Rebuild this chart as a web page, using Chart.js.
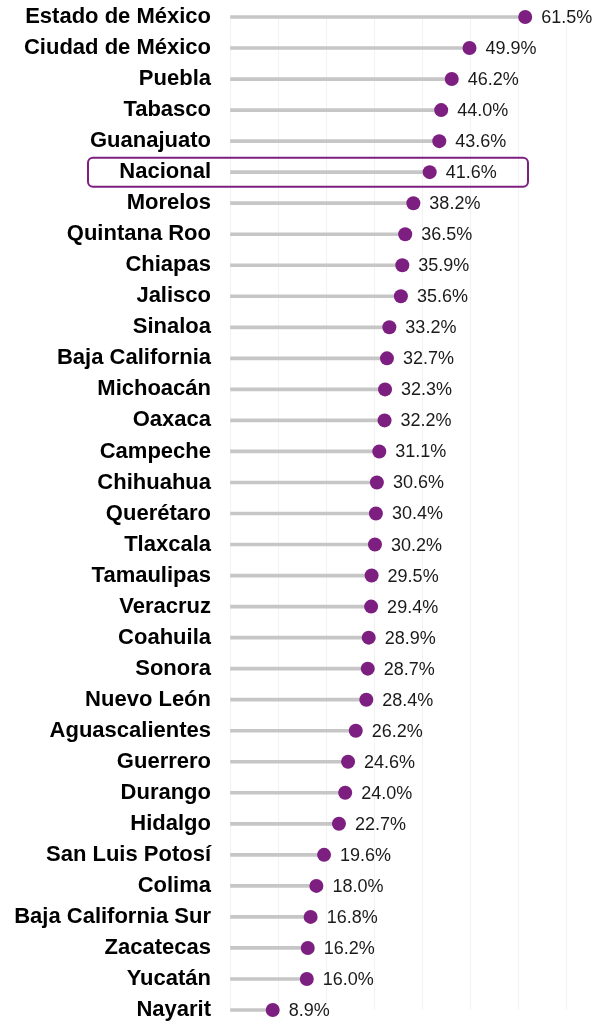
<!DOCTYPE html>
<html>
<head>
<meta charset="utf-8">
<script src="https://cdn.jsdelivr.net/npm/chart.js@4.4.1/dist/chart.umd.min.js"></script>
<style>
  body { margin: 0; background: #fff; }
  canvas { display: block; }
</style>
</head>
<body>
<canvas id="myChart" width="598" height="1021"></canvas>
<script>
// Datos
const estados = ['Estado de México', 'Ciudad de México', 'Puebla', 'Tabasco', 'Guanajuato', 'Nacional',
  'Morelos', 'Quintana Roo', 'Chiapas', 'Jalisco', 'Sinaloa', 'Baja California', 'Michoacán', 'Oaxaca',
  'Campeche', 'Chihuahua', 'Querétaro', 'Tlaxcala', 'Tamaulipas', 'Veracruz', 'Coahuila', 'Sonora',
  'Nuevo León', 'Aguascalientes', 'Guerrero', 'Durango', 'Hidalgo', 'San Luis Potosí', 'Colima',
  'Baja California Sur', 'Zacatecas', 'Yucatán', 'Nayarit'];
const porcentajes = [61.5, 49.9, 46.2, 44.0, 43.6, 41.6, 38.2, 36.5, 35.9, 35.6, 33.2, 32.7, 32.3, 32.2,
  31.1, 30.6, 30.4, 30.2, 29.5, 29.4, 28.9, 28.7, 28.4, 26.2, 24.6, 24.0, 22.7, 19.6, 18.0, 16.8, 16.2, 16.0, 8.9];
const destacado = 'Nacional';

const morado = '#7d1f80';

// etiquetas de valor a la derecha del punto
const etiquetas = {
  id: 'etiquetas',
  afterDatasetsDraw(chart) {
    const c = chart.ctx;
    const meta = chart.getDatasetMeta(1);
    c.save();
    c.font = '18px "Liberation Sans", Arial, sans-serif';
    c.fillStyle = '#1a1a1a';
    c.textBaseline = 'middle';
    meta.data.forEach((p, i) => {
      c.fillText(porcentajes[i].toFixed(1) + '%', p.x + 16, p.y + 1);
    });
    c.restore();
  }
};

// recuadro de Nacional
const recuadro = {
  id: 'recuadro',
  afterDraw(chart) {
    const i = estados.indexOf(destacado);
    const y = chart.scales.y.getPixelForValue(i);
    const c = chart.ctx;
    c.save();
    c.strokeStyle = morado;
    c.lineWidth = 2;
    c.beginPath();
    c.roundRect(88, y - 14.5, 440, 29, 5);
    c.stroke();
    c.restore();
  }
};

const ctx = document.getElementById('myChart');

new Chart(ctx, {
  data: {
    labels: estados,
    datasets: [{
      type: 'bar',
      data: porcentajes,
      backgroundColor: '#c6c6c6',
      barThickness: 3,
      clip: false,
      order: 2
    }, {
      type: 'line',
      data: porcentajes,
      showLine: false,
      pointRadius: 7,
      pointHoverRadius: 7,
      pointBackgroundColor: morado,
      pointBorderWidth: 0,
      clip: false,
      order: 1
    }]
  },
  options: {
    indexAxis: 'y',
    responsive: false,
    animation: false,
    events: [],
    layout: { padding: { top: 17, bottom: 11, left: 0, right: 8 } },
    scales: {
      x: {
        min: 0,
        max: 75,
        ticks: { display: false, stepSize: 10, includeBounds: false },
        grid: { color: '#f2f2f2', drawTicks: false },
        border: { display: false },
        afterFit(s) { s.height = 0; s.paddingLeft = 0; s.paddingRight = 0; }
      },
      y: {
        offset: false,
        grid: { display: false },
        border: { display: false },
        ticks: {
          color: '#000',
          padding: 11,
          autoSkip: false,
          font: { family: '"Liberation Sans", Arial, sans-serif', size: 22, weight: 'bold' }
        },
        afterFit(s) { s.width = 230; s.paddingTop = 0; s.paddingBottom = 0; }
      }
    },
    plugins: {
      legend: { display: false },
      tooltip: { enabled: false }
    }
  },
  plugins: [etiquetas, recuadro]
});
</script>
</body>
</html>
